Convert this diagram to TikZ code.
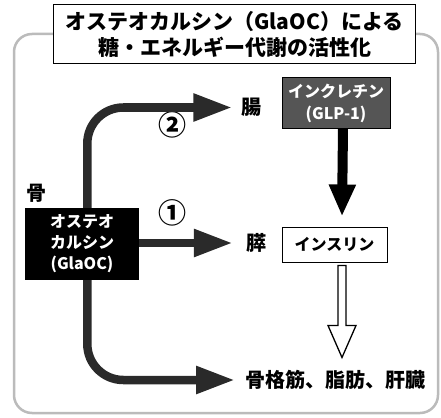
\documentclass[tikz,border=0pt]{standalone}
\usepackage{fontspec}
\setmainfont{Noto Sans CJK JP}
\usetikzlibrary{arrows.meta}
\definecolor{arrowgray}{HTML}{2A2A2A}
\definecolor{bordergray}{HTML}{BBBBBB}
\definecolor{glpgray}{HTML}{555555}
\begin{document}
\begin{tikzpicture}[x=1pt,y=-1pt,
  bigarrow/.style={draw=arrowgray, line width=8.5pt, -{Triangle[length=39pt,width=26pt]}, rounded corners=36pt},
  lbl/.style={font=\fontsize{20}{22}\selectfont\bfseries, inner sep=0pt},
  numlbl/.style={font=\fontsize{28}{30}\selectfont\bfseries, inner sep=0pt},
  boxtxt/.style={font=\fontsize{16}{21}\selectfont\bfseries, align=center, inner sep=0pt}]
\useasboundingbox (0,0) rectangle (441,417);
% outer frame
\draw[bordergray, line width=2.5pt, rounded corners=18pt] (14,34) rectangle (438,413);
% title
\node[draw=black, fill=white, line width=1pt, minimum width=362pt, minimum height=59pt,
      align=center, inner sep=0pt, font=\fontsize{21}{26}\selectfont\bfseries] (title) at (234.5,34.5)
  {オステオカルシン（GlaOC）による\\糖・エネルギー代謝の活性化};
% nodes
\node[boxtxt, fill=black, text=white, minimum width=114pt, minimum height=72pt] (g) at (82,244)
  {オステオ\\カルシン\\(GlaOC)};
\node[boxtxt, draw=black, fill=glpgray, text=white, line width=1pt, minimum width=108pt, minimum height=50pt,
      font=\fontsize{16}{22}\selectfont\bfseries] (glp) at (336,103) {インクレチン\\(GLP-1)};
\node[boxtxt, draw=black, fill=white, line width=1pt, minimum width=105pt, minimum height=35pt] (ins) at (334.5,244.5) {インスリン};
\node[lbl] (bone) at (36,193) {骨};
\node[lbl] (gut) at (251.5,107.5) {腸};
\node[lbl] (pan) at (256,243) {膵};
\node[lbl, anchor=west] (sk) at (245,380) {骨格筋、脂肪、肝臓};
\node[numlbl] (n1) at (172,213) {①};
\node[numlbl] (n2) at (172,125) {②};
% arrows
\draw[bigarrow] ([xshift=62.5pt]g.north west) -- ([xshift=62.5pt]g.north west |- gut.west) -- ([xshift=-9pt]gut.west);
\draw[bigarrow] (g.east |- pan.west) -- ([xshift=-13pt]pan.west);
\draw[bigarrow] ([xshift=62.5pt]g.south west) -- ([xshift=62.5pt]g.south west |- sk.west) -- ([xshift=-10pt]sk.west);
\draw[black, line width=10pt, -{Triangle[length=32pt,width=25pt]}] ([xshift=7pt]glp.south) -- ([xshift=7.5pt,yshift=10pt]ins.north);
\draw[line width=1.3pt, fill=white] ([xshift=3.5pt,yshift=-3pt]ins.south) -- ++(0,60) -- ++(-10,0) -- ++(14,32) -- ++(14,-32) -- ++(-10,0) -- ++(0,-60) -- cycle;
\end{tikzpicture}
\end{document}
